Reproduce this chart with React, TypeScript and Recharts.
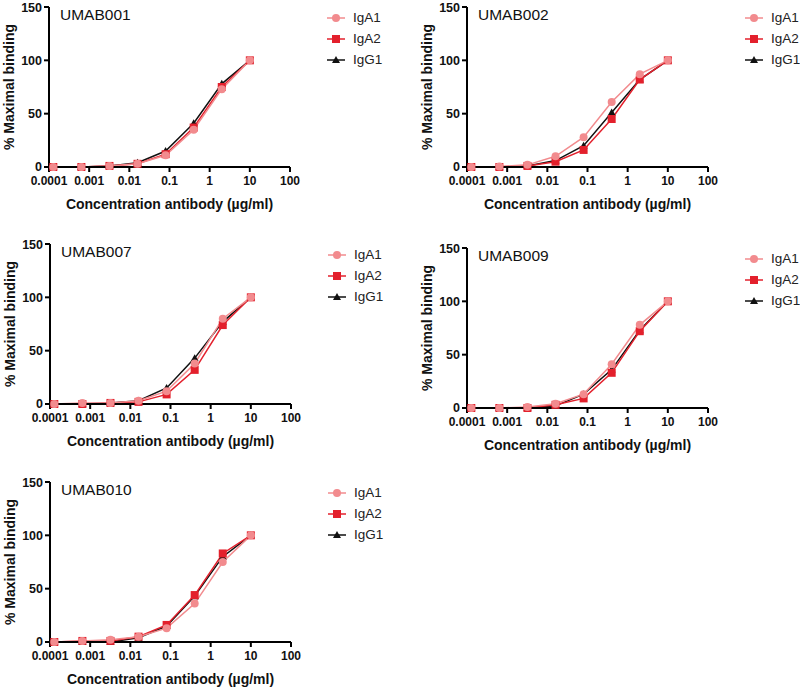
import React from "react";
import { LineChart, Line, XAxis, YAxis, Label } from "recharts";

// 5-fold dilution series, µg/ml
const concentrations = [10, 2, 0.4, 0.08, 0.016, 0.0032, 0.00064, 0.000128];
const xTicks = [0.0001, 0.001, 0.01, 0.1, 1, 10, 100];
const yTicks = [0, 50, 100, 150];
const isotypes = ["IgA1", "IgA2", "IgG1"];

const umab001IgA1 = [100, 73, 35, 11, 3, 1, 0, 0];
const umab001IgA2 = [100, 75, 37, 12, 3, 1, 0, 0];
const umab001IgG1 = [100, 78, 41, 15, 4, 1, 0, 0];

const umab002IgA1 = [100, 87, 61, 28, 10, 2, 0.5, 0];
const umab002IgA2 = [100, 82, 45, 16, 5, 1, 0, 0];
const umab002IgG1 = [100, 82, 51, 20, 6, 1, 0, 0];

const umab007IgA1 = [100, 80, 38, 12, 3, 1, 1, 0];
const umab007IgA2 = [100, 74, 32, 9, 2, 1, 0, 0];
const umab007IgG1 = [100, 77, 43, 15, 3, 1, 0, 0];

const umab009IgA1 = [100, 78, 41, 13, 4, 1, 0, 0];
const umab009IgA2 = [100, 72, 33, 9, 3, 0, 0, 0];
const umab009IgG1 = [100, 73, 36, 13, 2, 0, 0, 0];

const umab010IgA1 = [100, 75, 36, 13, 5, 2, 1, 0];
const umab010IgA2 = [100, 83, 44, 16, 5, 1, 1, 0];
const umab010IgG1 = [100, 80, 43, 15, 4, 0, 0, 0];

const COLORS: Record<string, string> = {
  IgA1: "#f28b8e",
  IgA2: "#e3202c",
  IgG1: "#111111",
};

const FONT = "'Liberation Sans', Arial, sans-serif";

function Marker({ kind, cx, cy }: { kind: string; cx: number; cy: number }) {
  const c = COLORS[kind];
  if (kind === "IgA1") return <circle cx={cx} cy={cy} r={4} fill={c} />;
  if (kind === "IgA2") return <rect x={cx - 4} y={cy - 4} width={8} height={8} fill={c} />;
  return <polygon points={`${cx},${cy - 4} ${cx - 4},${cy + 3} ${cx + 4},${cy + 3}`} fill={c} />;
}

const dotFor = (kind: string) => (props: any) =>
  props.cx == null ? <g key={`${kind}-e-${props.index}`} /> : (
    <g key={`${kind}-${props.index}`}>
      <Marker kind={kind} cx={props.cx} cy={props.cy} />
    </g>
  );

function YLabel(props: any) {
  const vb = props.viewBox;
  const cy = vb.y + vb.height / 2;
  return (
    <text
      x={9}
      y={cy}
      transform={`rotate(-90, 9, ${cy})`}
      textAnchor="middle"
      dominantBaseline="central"
      fontFamily={FONT}
      fontWeight="bold"
      fontSize={14}
      fill="#111"
    >
      % Maximal binding
    </text>
  );
}

function Legend2() {
  return (
    <div style={{ position: "absolute", left: 327, top: 0 }}>
      {isotypes.map((k, i) => (
        <div key={k} style={{ position: "absolute", top: [18, 39, 60][i] - 8, left: 0, height: 16, width: 80 }}>
          <svg width={20} height={16} style={{ position: "absolute", left: 0, top: 0 }}>
            <line x1={0} y1={8} x2={18} y2={8} stroke={COLORS[k]} strokeWidth={1.5} />
            <Marker kind={k} cx={9} cy={8} />
          </svg>
          <span
            style={{
              position: "absolute",
              left: 26,
              top: 0,
              lineHeight: "16px",
              fontSize: 13.5,
              fontFamily: FONT,
              color: "#222",
              whiteSpace: "nowrap",
            }}
          >
            {k}
          </span>
        </div>
      ))}
    </div>
  );
}

function Panel({ title, a1, a2, g1, left, top }: { title: string; a1: number[]; a2: number[]; g1: number[]; left: number; top: number }) {
  const data = concentrations.map((x, i) => ({ x, IgA1: a1[i], IgA2: a2[i], IgG1: g1[i] }));
  const order = ["IgG1", "IgA2", "IgA1"];
  return (
    <div style={{ position: "absolute", left, top, width: 400, height: 220 }}>
      <LineChart width={400} height={220} data={data} margin={{ top: 7, right: 110, bottom: 9, left: 0 }}>
        <XAxis
          dataKey="x"
          type="number"
          scale="log"
          domain={[0.0001, 100]}
          ticks={xTicks}
          allowDataOverflow
          height={44}
          tickSize={5}
          tickMargin={4}
          stroke="#000"
          strokeWidth={2}
          tickFormatter={(v: number) => String(v)}
          tick={{ fill: "#111", fontSize: 12, fontWeight: "bold", fontFamily: FONT }}
        >
          <Label
            value="Concentration antibody (µg/ml)"
            position="insideBottom"
            offset={2}
            style={{ fill: "#111", fontSize: 14, fontWeight: "bold", fontFamily: FONT }}
          />
        </XAxis>
        <YAxis
          type="number"
          domain={[0, 150]}
          ticks={yTicks}
          width={49}
          tickSize={5}
          stroke="#000"
          strokeWidth={2}
          tick={{ fill: "#111", fontSize: 12.5, fontWeight: "bold", fontFamily: FONT }}
        >
          <Label content={<YLabel />} />
        </YAxis>
        {order.map((k) => (
          <Line
            key={k}
            dataKey={k}
            stroke={COLORS[k]}
            strokeWidth={1.5}
            dot={dotFor(k)}
            activeDot={false}
            isAnimationActive={false}
          />
        ))}
      </LineChart>
      <div
        style={{
          position: "absolute",
          left: 60,
          top: 7,
          fontSize: 15.5,
          lineHeight: "16px",
          fontFamily: FONT,
          color: "#111",
        }}
      >
        {title}
      </div>
      <Legend2 />
    </div>
  );
}

export default function App() {
  return (
    <div
      style={{
        position: "absolute",
        left: 0,
        top: 0,
        width: 800,
        height: 689,
        background: "#fff",
        overflow: "hidden",
      }}
    >
      <Panel title="UMAB001" a1={umab001IgA1} a2={umab001IgA2} g1={umab001IgG1} left={0} top={0} />
      <Panel title="UMAB002" a1={umab002IgA1} a2={umab002IgA2} g1={umab002IgG1} left={418} top={0} />
      <Panel title="UMAB007" a1={umab007IgA1} a2={umab007IgA2} g1={umab007IgG1} left={1} top={237} />
      <Panel title="UMAB009" a1={umab009IgA1} a2={umab009IgA2} g1={umab009IgG1} left={418} top={241} />
      <Panel title="UMAB010" a1={umab010IgA1} a2={umab010IgA2} g1={umab010IgG1} left={1} top={475} />
    </div>
  );
}
